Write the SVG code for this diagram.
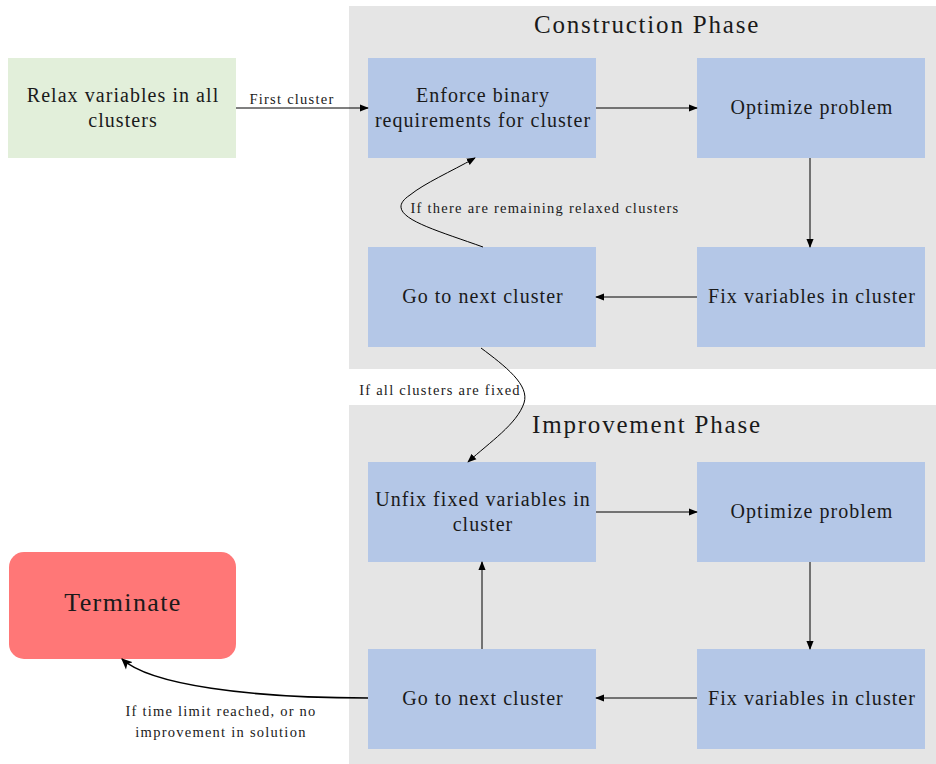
<svg xmlns="http://www.w3.org/2000/svg" width="936" height="764" viewBox="0 0 936 764">
  <style>
    .phase { fill: #e5e5e5; }
    .box { fill: #b4c7e7; }
    .start { fill: #e2efda; }
    .stop { fill: #ff7777; }
    .lbl { font-size: 20px; letter-spacing: 1.05px; }
    .title { font-size: 25px; letter-spacing: 1.8px; }
    .edge { font-size: 14.5px; letter-spacing: 1.25px; }
    .big { font-size: 26px; letter-spacing: 1.4px; }
    .conn { fill: none; stroke: #000; stroke-width: 1; }
    .thick { stroke-width: 1.6; }
  </style>
  <defs>
    <marker id="arrow" viewBox="0 0 10 10" refX="9" refY="5" markerWidth="9" markerHeight="9" markerUnits="userSpaceOnUse" orient="auto">
      <path d="M0,1 L10,5 L0,9 z" fill="#000"/>
    </marker>
    <marker id="arrowBig" viewBox="0 0 10 10" refX="9" refY="5" markerWidth="7" markerHeight="7" orient="auto">
      <path d="M0,0.5 L10,5 L0,9.5 L2.5,5 z" fill="#000"/>
    </marker>
  </defs>

  <g font-family="'Liberation Serif', 'DejaVu Serif', serif" fill="#1a1a1a" text-anchor="middle">
  <!-- phase backgrounds -->
  <g id="construction-phase">
    <rect class="phase" x="349" y="6" width="587" height="363"/>
    <text class="title" x="647" y="33">Construction Phase</text>
  </g>
  <g id="improvement-phase">
    <rect class="phase" x="349" y="405" width="587" height="359"/>
    <text class="title" x="647" y="433">Improvement Phase</text>
  </g>

  <!-- nodes -->
  <g id="relax">
    <rect class="start" x="8" y="58" width="228" height="100"/>
    <text class="lbl" x="123" y="102">Relax variables in all</text>
    <text class="lbl" x="123" y="127">clusters</text>
  </g>
  <g id="enforce">
    <rect class="box" x="368" y="58" width="228" height="100"/>
    <text class="lbl" x="483" y="102">Enforce binary</text>
    <text class="lbl" x="483" y="127">requirements for cluster</text>
  </g>
  <g id="optimize1">
    <rect class="box" x="697" y="58" width="228" height="100"/>
    <text class="lbl" x="812" y="114">Optimize problem</text>
  </g>
  <g id="fix1">
    <rect class="box" x="697" y="247" width="228" height="100"/>
    <text class="lbl" x="812" y="303">Fix variables in cluster</text>
  </g>
  <g id="next1">
    <rect class="box" x="368" y="247" width="228" height="100"/>
    <text class="lbl" x="483" y="303">Go to next cluster</text>
  </g>
  <g id="unfix">
    <rect class="box" x="368" y="462" width="228" height="100"/>
    <text class="lbl" x="483" y="506">Unfix fixed variables in</text>
    <text class="lbl" x="483" y="531">cluster</text>
  </g>
  <g id="optimize2">
    <rect class="box" x="697" y="462" width="228" height="100"/>
    <text class="lbl" x="812" y="518">Optimize problem</text>
  </g>
  <g id="fix2">
    <rect class="box" x="697" y="649" width="228" height="100"/>
    <text class="lbl" x="812" y="705">Fix variables in cluster</text>
  </g>
  <g id="next2">
    <rect class="box" x="368" y="649" width="228" height="100"/>
    <text class="lbl" x="483" y="705">Go to next cluster</text>
  </g>
  <g id="terminate">
    <rect class="stop" x="9" y="552" width="227" height="107" rx="15" ry="15"/>
    <text class="big" x="123" y="611">Terminate</text>
  </g>

  <!-- connectors -->
  <g id="connectors">
    <path class="conn" d="M236,108 L368,108" marker-end="url(#arrow)"/>
    <text class="edge" x="292" y="104">First cluster</text>
    <path class="conn" d="M596,108 L697,108" marker-end="url(#arrow)"/>
    <path class="conn" d="M810,158 L810,247" marker-end="url(#arrow)"/>
    <path class="conn" d="M697,297 L596,297" marker-end="url(#arrow)"/>
    <path class="conn" d="M483,247 C430,228 380,215 410,195 C425,183 450,172 475,158" marker-end="url(#arrow)"/>
    <text class="edge" x="545" y="213">If there are remaining relaxed clusters</text>
    <path class="conn" d="M481,348 C505,366 530,385 524,403 C517,424 490,442 468,462" marker-end="url(#arrow)"/>
    <text class="edge" x="440" y="395">If all clusters are fixed</text>

    <path class="conn" d="M596,512 L697,512" marker-end="url(#arrow)"/>
    <path class="conn" d="M810,562 L810,649" marker-end="url(#arrow)"/>
    <path class="conn" d="M697,698 L596,698" marker-end="url(#arrow)"/>
    <path class="conn" d="M482,649 L482,562" marker-end="url(#arrow)"/>
    <path class="conn thick" d="M368,698 C250,698 150,685 122,659" marker-end="url(#arrowBig)"/>
    <text class="edge" x="221" y="716">If time limit reached, or no</text>
    <text class="edge" x="221" y="737">improvement in solution</text>
  </g>
  </g>
</svg>
